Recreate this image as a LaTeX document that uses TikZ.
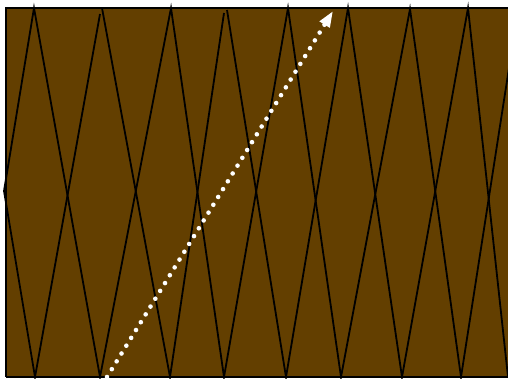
\documentclass[tikz,border=0pt]{standalone}
\usetikzlibrary{arrows.meta}
\definecolor{bg}{RGB}{99,63,0}
\tikzset{
  zig/.style={black, line width=1.8pt, line join=miter},
  frameline/.style={black, line width=2.4pt},
  ray/.style={white, line width=4.6pt, line cap=round, dash pattern=on 0pt off 9.2pt,
    -{Triangle[length=16pt,width=11pt]}}
}
\begin{document}
\begin{tikzpicture}[x=1pt,y=-1pt]
\useasboundingbox (0,0) rectangle (508,378);
\clip (0,0) rectangle (508,378);
\fill[bg] (6,8) rectangle (515,377);
% vertices
\coordinate (L) at (4,191);
\coordinate (T1) at (34,8);
\coordinate (T2a) at (100,14);
\coordinate (T2) at (102,8);
\coordinate (T3) at (171,8);
\coordinate (T4a) at (224,13);
\coordinate (T4) at (227,10);
\coordinate (T5) at (288,8);
\coordinate (T6) at (348,8);
\coordinate (T7) at (410,9);
\coordinate (T8) at (468,8);
\coordinate (B1) at (35,377);
\coordinate (B2) at (100,377);
\coordinate (B3) at (170,377);
\coordinate (B4) at (224,377);
\coordinate (B5) at (286,377);
\coordinate (B6) at (341,377);
\coordinate (B7) at (402,377);
\coordinate (B8) at (461,377);
\coordinate (B9) at (508,377);
\coordinate (R) at (518,10);
% zigzag one
\draw[zig] (L) -- (T1) -- (B2) -- (T3) -- (B4) -- (T5) -- (B6) -- (T7) -- (B8) -- (R);
% zigzag two
\draw[zig] (L) -- (B1) -- (T2a);
\draw[zig] (T2) -- (B3) -- (T4a);
\draw[zig] (T4) -- (B5) -- (T6) -- (B7) -- (T8) -- (B9);
% frame
\draw[frameline] (6,377) -- (6,8) -- (515,8);
\draw[frameline] (6,377) -- (515,377);
% ray
\coordinate (RS) at (107,377);
\coordinate (RE) at (333,11);
\draw[ray] (RS) -- (RE);
\end{tikzpicture}
\end{document}
